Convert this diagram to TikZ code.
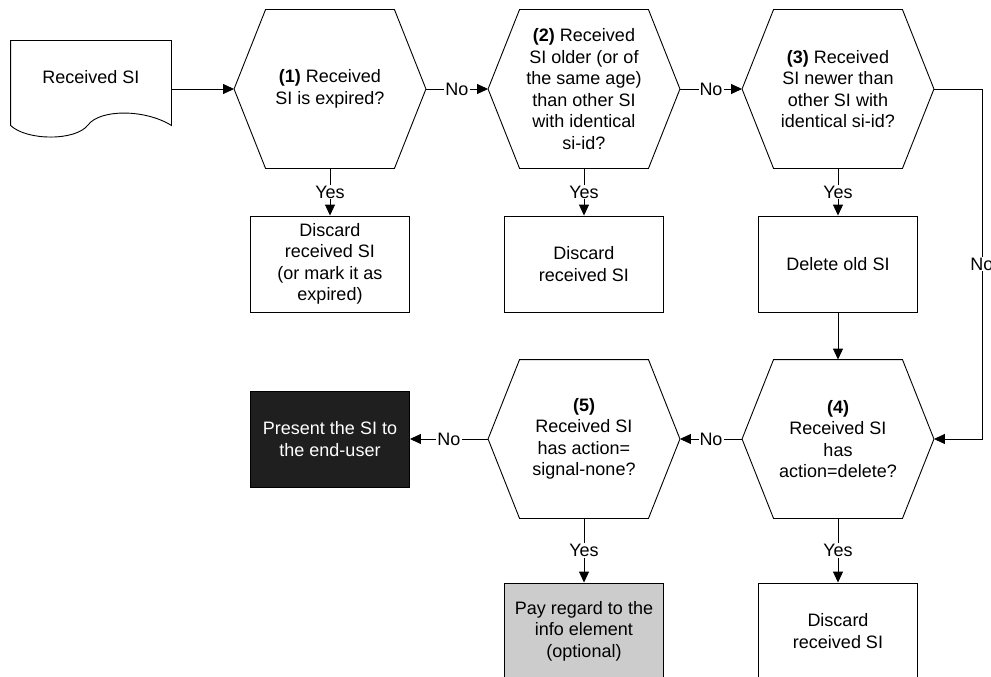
\documentclass[tikz,border=0pt]{standalone}
\usepackage{fontspec}
\setmainfont{Liberation Sans}
\usetikzlibrary{arrows.meta}

\begin{document}
\begin{tikzpicture}[x=1pt, y=-1pt, node distance=254pt,
    every node/.style={font=\fontsize{18}{21.5}\selectfont},
    decision/.style={minimum width=191pt, minimum height=158pt, inner sep=0pt, align=center},
    action/.style={draw, minimum width=159pt, minimum height=96pt, inner sep=0pt, align=center},
    answer/.style={fill=white, inner sep=1pt},
    >={Triangle[length=11pt,width=10pt]}, line width=0.9pt]
\useasboundingbox (0,0) rectangle (991,677);
\node (si) [minimum width=160pt, minimum height=72pt] at (91,77) {Received SI};
\node[decision] (h1) at (330,89) {\textbf{(1)} Received\\SI is expired?};
\node[decision] (h2) [right of=h1] {\textbf{(2)} Received\\SI older (or of\\the same age)\\than other SI\\with identical\\si-id?};
\node[decision] (h3) [right of=h2] {\textbf{(3)} Received\\SI newer than\\other SI with\\identical si-id?};
\node[action] (b1) [node distance=175pt, below of=h1] {Discard\\received SI\\(or mark it as\\expired)};
\node[action] (b2) [node distance=175pt, below of=h2] {Discard\\received SI};
\node[action] (b3) [node distance=175pt, below of=h3] {Delete old SI};
\node[decision] (h4) [node distance=175pt, below of=b3] {\textbf{(4)}\\Received SI\\has\\action=delete?};
\node[decision] (h5) [left of=h4] {\textbf{(5)}\\Received SI\\has action=\\signal-none?};
\node[action, fill=black!88, text=white] (present) [left of=h5] {Present the SI to\\the end-user};
\node[action, fill=black!20] (pay) [node distance=192pt, below of=h5] {Pay regard to the\\info element\\(optional)};
\node[action] (b4) [node distance=192pt, below of=h4] {Discard\\received SI};
\coordinate (bend) at ([xshift=48pt]h3.east);
% shapes
\draw (si.north west) -- (si.north east) -- ([yshift=-12pt]si.south east)
  .. controls (145,109) and (100,109) .. (88,125)
  .. controls (76,141) and (27,141) .. ([yshift=-12pt]si.south west) -- cycle;
\foreach \n in {h1,h2,h3,h4,h5}
  \draw (\n.west) -- ([xshift=31.5pt]\n.north west) -- ([xshift=-31.5pt]\n.north east)
    -- (\n.east) -- ([xshift=-31.5pt]\n.south east) -- ([xshift=31.5pt]\n.south west) -- cycle;
% connectors
\draw[->] (si.east |- h1.west) -- (h1.west);
\draw[->] (h1.east) -- node[answer] {No} (h2.west);
\draw[->] (h2.east) -- node[answer] {No} (h3.west);
\draw[->] (h1.south) -- node[answer] {Yes} (b1.north);
\draw[->] (h2.south) -- node[answer] {Yes} (b2.north);
\draw[->] (h3.south) -- node[answer] {Yes} (b3.north);
\draw[->] (b3.south) -- (h4.north);
\draw[->] (h3.east) -- (bend) |- node[answer, pos=0.25] {No} (h4.east);
\draw[->] (h4.west) -- node[answer] {No} (h5.east);
\draw[->] (h5.west) -- node[answer] {No} (present.east);
\draw[->] (h5.south) -- node[answer] {Yes} (pay.north);
\draw[->] (h4.south) -- node[answer] {Yes} (b4.north);
\end{tikzpicture}
\end{document}
